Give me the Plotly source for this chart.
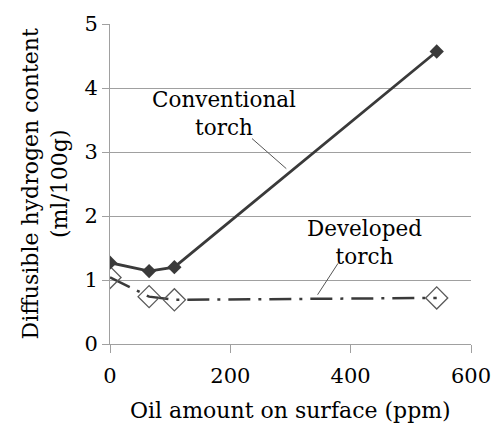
import plotly.graph_objects as go

oil_conv = [0, 65, 107, 543]
h_conv = [1.27, 1.14, 1.20, 4.57]
oil_dev = [0, 65, 107, 543]
h_dev = [1.04, 0.74, 0.69, 0.72]
x_ticks = [0, 200, 400, 600]
y_ticks = [0, 1, 2, 3, 4, 5]

FONT = "DejaVu Serif, serif"
fig = go.Figure()
fig.add_trace(go.Scatter(
    x=oil_dev, y=h_dev, mode="lines+markers",
    line=dict(color="#3a3a3a", width=2.5, dash="22px,8px,3px,8px"),
    marker=dict(symbol="diamond-open", size=17, color="#5a5a5a", line=dict(width=1.3)),
    showlegend=False))
fig.add_trace(go.Scatter(
    x=oil_conv, y=h_conv, mode="lines+markers",
    line=dict(color="#3a3a3a", width=2.8),
    marker=dict(symbol="diamond", size=11, color="#3a3a3a"),
    showlegend=False))

# annotation texts and leader lines
fig.add_annotation(x=189, y=3.6, xref="x", yref="y", text="Conventional<br>torch",
                   showarrow=False, font=dict(family=FONT, size=21.5, color="black"))
fig.add_shape(type="line", x0=236, y0=3.21, x1=293, y1=2.74, xref="x", yref="y",
              line=dict(color="#555555", width=1))
fig.add_annotation(x=423, y=1.58, xref="x", yref="y", text="Developed<br>torch",
                   showarrow=False, font=dict(family=FONT, size=21.5, color="black"))
fig.add_shape(type="line", x0=379, y0=1.26, x1=345, y1=0.77, xref="x", yref="y",
              line=dict(color="#555555", width=1))

fig.add_annotation(x=294, y=412, xref="paper", yref="paper", yanchor="middle",
                   text="Oil amount on surface (ppm)", showarrow=False,
                   font=dict(family=FONT, size=22, color="black"))
fig.add_annotation(x=44, y=181, xref="paper", yref="paper", xanchor="center",
                   text="Diffusible hydrogen content<br>(ml/100g)", showarrow=False,
                   textangle=-90, font=dict(family=FONT, size=22, color="black"))

# convert pixel positions of the titles to paper coords
L, R, T, B = 110, 24, 18, 80
W, H = 503, 424
pw, ph = W - L - R, H - T - B
for a in fig.layout.annotations:
    if a.xref == "paper":
        a.x = (a.x - L) / pw
        a.y = (H - B - a.y) / ph

fig.update_layout(
    width=W, height=H,
    margin=dict(l=L, r=R, t=T, b=B),
    plot_bgcolor="white", paper_bgcolor="white",
    font=dict(family=FONT, size=21, color="black"),
    xaxis=dict(range=[0, 600], tickvals=x_ticks, showgrid=False, zeroline=False,
               showline=True, linecolor="#a0a0a0", linewidth=1,
               ticks="outside", ticklen=8, tickcolor="#a0a0a0",
               ticklabelstandoff=5),
    yaxis=dict(range=[0, 5], tickvals=y_ticks, showgrid=True, gridcolor="#a0a0a0",
               gridwidth=1, zeroline=False, showline=True, linecolor="#a0a0a0",
               linewidth=1, ticks="outside", ticklen=7, tickcolor="#a0a0a0"),
)
fig.write_html("out.html")
